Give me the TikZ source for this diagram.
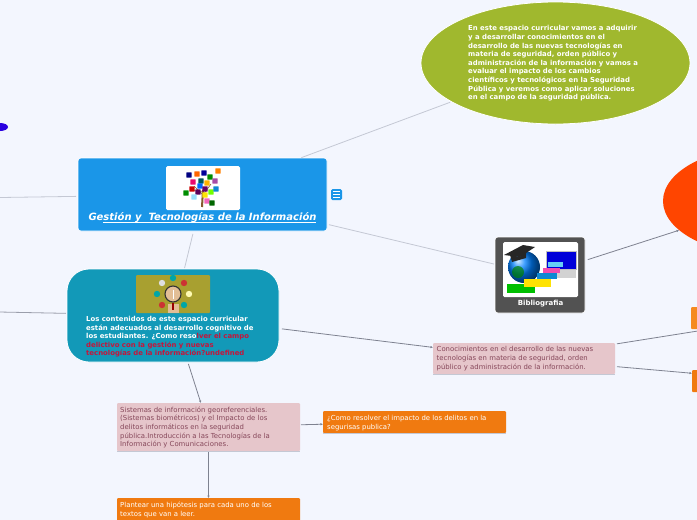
\documentclass[tikz,border=0pt]{standalone}
\usepackage{fontspec}
\setmainfont{DejaVu Sans}
\usetikzlibrary{shapes.geometric,arrows.meta}
\definecolor{bgc}{HTML}{F3F6FE}
\definecolor{rootc}{HTML}{1A96E8}
\definecolor{tealc}{HTML}{1299B8}
\definecolor{greenc}{HTML}{A0B82E}
\definecolor{bibc}{HTML}{525252}
\definecolor{hotc}{HTML}{FF4500}
\definecolor{pinkc}{HTML}{E6C6CB}
\definecolor{pinkt}{HTML}{86475A}
\definecolor{orc}{HTML}{F07A10}
\definecolor{orl}{HTML}{F58A20}
\definecolor{redt}{HTML}{C4163C}
\definecolor{lnl}{HTML}{C4C8D4}
\definecolor{lnd}{HTML}{7E8290}
\definecolor{tanc}{HTML}{E2BE96}
\definecolor{olivec}{HTML}{A8A030}
\definecolor{blobc}{HTML}{2A00E0}
\tikzset{
  lightlink/.style={lnl,line width=0.8pt},
  darklink/.style={lnd,line width=0.8pt},
  tipped/.style={-{Latex[length=2.5pt,width=2.5pt]}},
  bodytext/.style={font=\fontsize{6.9}{8.6}\selectfont,align=left,inner sep=0pt,anchor=north west},
  boldtext/.style={font=\bfseries\fontsize{6.9}{8.6}\selectfont,text=white,align=left,inner sep=0pt,anchor=north west},
  box/.style={rectangle,inner sep=0pt,outer sep=0pt},
  pinkbox/.style={box,fill=pinkc,rounded corners=1pt},
  orbox/.style={box,fill=orc,rounded corners=1pt},
  picbox/.style={box,fill=white,rounded corners=1.5pt},
}
\newcommand{\tileat}[3]{\fill[#3,rounded corners=0.5pt] (#1-2.7,#2-2.7) rectangle (#1+2.7,#2+2.7);}
\begin{document}
\begin{tikzpicture}[x=1pt,y=-1pt]
\useasboundingbox (0,0) rectangle (697,520);
\clip (0,0) rectangle (697,520);
\fill[bgc] (0,0) rectangle (697,520);

% nodes
\node[box,fill=rootc,draw=white,line width=0.6pt,rounded corners=3pt,minimum width=249pt,minimum height=73pt] (root) at (202.5,194.5) {};
\node[box,fill=tealc,draw=white,line width=0.8pt,rounded corners=22pt,minimum width=212pt,minimum height=93pt] (tealn) at (173,315.5) {};
\node[ellipse,fill=greenc,draw=white,line width=0.8pt,inner sep=0pt,minimum width=269pt,minimum height=122pt] (goal) at (555.5,63) {};
\node[box,fill=bibc,draw=white,line width=0.6pt,rounded corners=3pt,minimum width=90pt,minimum height=76pt] (bib) at (540,275) {};
\node[ellipse,fill=hotc,inner sep=0pt,minimum width=214pt,minimum height=110pt] (hot) at (770,201) {};
\node[pinkbox,minimum width=182pt,minimum height=31pt] (know) at (524,358.5) {};
\node[box,fill=orl,rounded corners=1pt,minimum width=178pt,minimum height=22pt] (topr) at (780,318) {};
\node[orbox,minimum width=176pt,minimum height=22pt] (botr) at (780,381) {};
\node[pinkbox,minimum width=183pt,minimum height=48pt] (geo) at (208.5,427) {};
\node[orbox,minimum width=183pt,minimum height=22pt] (ask) at (414.5,422) {};
\node[orbox,minimum width=183pt,minimum height=23pt] (hyp) at (208.5,509.5) {};
\node[ellipse,fill=blobc,inner sep=0pt,minimum width=16pt,minimum height=8pt] (blob) at (0,127) {};
\node[box,fill=rootc,rounded corners=1.5pt,minimum width=11pt,minimum height=11pt] (menu) at (336.5,194.5) {};
\coordinate (offa) at (-100,199);
\coordinate (offb) at (-100,310);

% connectors
\draw[lightlink,shorten >=1pt,shorten <=1pt] (root) -- (goal);
\draw[lightlink,shorten >=1pt,shorten <=2pt] (root) -- (bib);
\draw[lightlink,shorten >=1pt,shorten <=3pt] (root) -- (tealn);
\draw[lightlink,shorten <=2pt] (root) -- (offa);
\draw[lnd!60!lnl,line width=0.8pt,shorten <=1pt] (tealn) -- (offb);
\draw[darklink,tipped,shorten <=3pt] (bib) -- (hot);
\draw[darklink,tipped,shorten <=3pt] (tealn) -- (know);
\draw[darklink,tipped,shorten <=2pt] (tealn) -- (geo);
\draw[darklink,shorten <=2pt] (know) -- (topr);
\draw[darklink,tipped,shorten <=2pt] (know) -- (botr);
\draw[darklink,tipped,shorten <=1pt] (geo) -- (ask);
\draw[darklink,tipped,shorten <=1pt] (geo) -- (hyp);

% grey underlines of flat boxes
\draw[lnl,line width=0.8pt] (know.south west) -- (know.south east);
\draw[lnl,line width=0.8pt] (geo.south west) -- (geo.south east);
\draw[lnl,line width=0.8pt] (ask.south west) -- (ask.south east);

% menu glyph
\foreach \yy in {191.5,194.5,197.5} \draw[white,line width=0.7pt] (333,\yy) -- (340,\yy);

% tree picture
\node[picbox,minimum width=74pt,minimum height=44pt] (treepic) at (203,188) {};
\draw[brown!70!black,line width=2pt] (203,190) -- (202,207);
\draw[brown!70!black,line width=0.6pt] (203,195) -- (194,186) (203,195) -- (211,184) (203,192) -- (190,190);
\tileat{189}{175}{blue!50!black}
\tileat{197}{174}{orange!80!red}
\tileat{204}{173}{blue!60!black}
\tileat{210}{177}{green!55!black}
\tileat{218}{171}{orange}
\tileat{193}{182}{magenta!70!red}
\tileat{201}{181}{teal!70!black}
\tileat{207}{183}{orange!60!yellow}
\tileat{215}{181}{violet!70}
\tileat{192}{189}{red!80!black}
\tileat{200}{186}{blue!60!cyan}
\tileat{198}{192}{violet!70!black}
\tileat{205}{189}{violet!80!black}
\tileat{211}{192}{lime!60!green}
\tileat{216}{189}{cyan!70!blue}
\tileat{186}{193}{green!55!black}
\tileat{205}{195}{yellow!90!orange}
\tileat{194}{197}{cyan!40}
\tileat{207}{201}{magenta!60}
\tileat{212}{203}{green!40!black}

% magnifier picture
\node[box,fill=olivec,rounded corners=1pt,minimum width=74pt,minimum height=38pt] (magpic) at (173,294) {};
\fill[tanc] (168,304) rectangle (179,313);
\fill[teal!70!cyan] (173,278) circle (3.2pt) (184,305) circle (3.2pt) (157,294) circle (3.2pt);
\fill[red!60!gray] (184,283) circle (3.2pt) (162,305) circle (3.2pt);
\fill[yellow!30] (189,294) circle (3.2pt);
\fill[gray!25] (162,283) circle (3.2pt);
\draw[black!80,line width=1.1pt,fill=tanc] (173,294) circle (8pt);
\draw[white,line width=0.6pt] (173,289.5) -- (173,298.5);
\draw[red!60!black,line width=1.2pt] (173,303) -- (173,310);

% bibliography picture
\node[picbox,minimum width=75pt,minimum height=55pt] (bibpic) at (540.5,269.5) {};
\fill[gray!35] (556,270) rectangle (576,278);
\fill[blue!85!black,draw=gray!50,line width=0.5pt] (546,251) rectangle (576,269);
\shade[ball color=cyan!50!blue] (524,267) circle (16pt);
\fill[green!50!black,opacity=.7] (518,272) circle (6pt);
\fill[black!85] (504,255) -- (523,245) -- (535,247) -- (520,257) -- cycle;
\fill[black!85] (510,255) -- (520,257) -- (526,250) -- (526,258) -- (512,262) -- cycle;
\fill[green!75!black] (507,284) rectangle (535,293);
\fill[yellow!85!orange] (524,279) rectangle (551,287);
\fill[cyan!70!blue] (537,273) rectangle (557,279);
\fill[magenta!70] (543,268) rectangle (560,273);
\fill[cyan!60] (548,262) rectangle (563,267);

% texts
\node[font=\bfseries\itshape\fontsize{10}{12}\selectfont,text=white,inner sep=0pt] (roott) at (202.5,218) {Ge\underline{\smash{stión y~~Tecnologías de la Información}}};
\node[boldtext] (goalt) at (468,25.5) {En este espacio curricular vamos a adquirir\\y a desarrollar conocimientos en el\\desarrollo de las nuevas tecnologías en\\materia de seguridad, orden público y\\administración de la información y vamos a\\evaluar el impacto de los cambios\\científicos y tecnológicos en la Seguridad\\Pública y veremos como aplicar soluciones\\en el campo de la seguridad pública.};
\node[boldtext] (tealt) at (86,316) {Los contenidos de este espacio curricular\\están adecuados al desarrollo cognitivo de\\los estudiantes. ¿Como reso\textcolor{redt}{lver el campo}\\\textcolor{redt}{delictivo con la gestión y nuevas}\\\textcolor{redt}{tecnologías de la información?undefined}};
\node[font=\bfseries\fontsize{7}{8.6}\selectfont,text=white,inner sep=0pt] (bibt) at (540.5,303.5) {Bibliografia};
\node[bodytext,text=pinkt] (knowt) at (436.5,346.5) {Conocimientos en el desarrollo de las nuevas\\tecnologías en materia de seguridad, orden\\público y administración de la información.};
\node[bodytext,text=pinkt] (geot) at (120,406.5) {Sistemas de información georeferenciales.\\(Sistemas biométricos) y el Impacto de los\\delitos informáticos en la seguridad\\pública.Introducción a las Tecnologías de la\\Información y Comunicaciones.};
\node[bodytext,text=white] (askt) at (327,415) {¿Como resolver el impacto de los delitos en la\\segurisas publica?};
\node[bodytext,text=white] (hypt) at (120,502) {Plantear una hipótesis para cada uno de los\\textos que van a leer.};
\end{tikzpicture}
\end{document}
